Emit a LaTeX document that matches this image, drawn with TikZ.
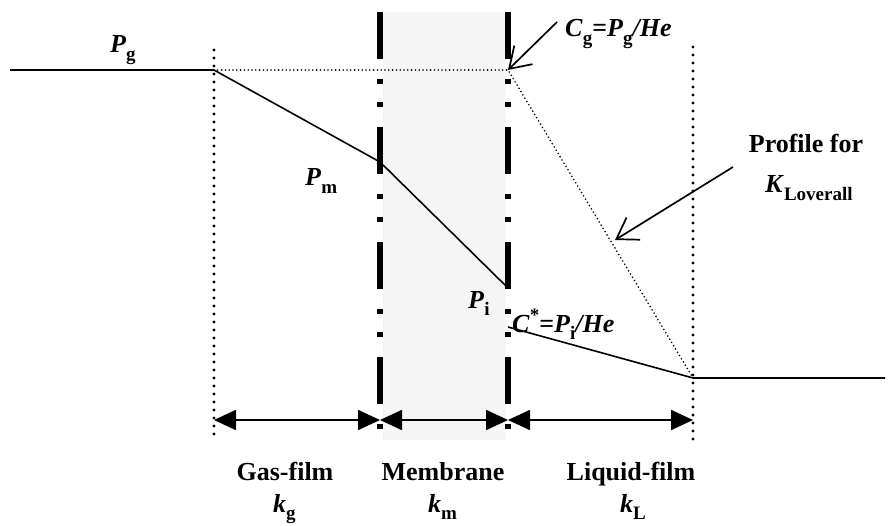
\documentclass[tikz,border=0pt]{standalone}
\usepackage{fontspec}
\setmainfont{Liberation Serif}
\usetikzlibrary{arrows.meta}
\newcommand{\sbs}[1]{\raisebox{-0.28em}{\fontsize{19}{19}\selectfont\bfseries\upshape #1}}
\newcommand{\sps}[1]{\raisebox{0.42em}{\fontsize{19}{19}\selectfont\bfseries\upshape #1}}
\begin{document}
\begin{tikzpicture}[x=1pt,y=-1pt,
  lbl/.style={inner sep=0pt, anchor=base west, font=\fontsize{26}{30}\selectfont\bfseries},
  clbl/.style={inner sep=0pt, anchor=base, font=\fontsize{26}{30}\selectfont\bfseries},
  prof/.style={line width=1.6pt},
  fdot/.style={line width=1.8pt, dash pattern=on 0pt off 3.8pt, line cap=round},
  vdot/.style={line width=3.4pt, dash pattern=on 0pt off 8pt, line cap=round},
  memb/.style={line width=5.5pt, dash pattern=on 47pt off 20pt on 5pt off 18pt on 5pt off 20pt},
  dim/.style={line width=1.8pt, {Triangle[length=22pt,width=20pt]}-{Triangle[length=22pt,width=20pt]}},
  ptr/.style={line width=1.7pt, -{Straight Barb[length=20pt,width=26pt]}}
]
\useasboundingbox (0,0) rectangle (890,526);
% membrane shading
\fill[black!4] (383,12) rectangle (506,440);
% coordinates
\coordinate (P0) at (10,70);
\coordinate (A) at (214,70);
\coordinate (M) at (380,162);
\coordinate (I) at (508,288);
\coordinate (CG) at (508,70);
\coordinate (S) at (508,327);
\coordinate (L) at (693,378);
\coordinate (L1) at (885,378);
\coordinate (gt) at (214,50);
\coordinate (gb) at (214,440);
\coordinate (lt) at (693,47);
\coordinate (lb) at (693,440);
\coordinate (mlt) at (380,12);
\coordinate (mlb) at (380,432);
\coordinate (mrt) at (508,12);
\coordinate (mrb) at (508,432);
\coordinate (d0) at (214,420);
\coordinate (d1) at (380,420);
\coordinate (d2) at (508,420);
\coordinate (d3) at (693,420);
% film boundaries
\draw[vdot] (gt) -- (gb);
\draw[vdot] (lt) -- (lb);
\draw[memb] (mlt) -- (mlb);
\draw[memb] (mrt) -- (mrb);
% profiles
\draw[prof] (P0) -- (A) -- (M) -- (I);
\draw[prof] (S) -- (L) -- (L1);
\draw[fdot] (A) -- (CG) -- (L);
% dimension arrows
\draw[dim] (d0) -- (d1);
\draw[dim] (d1) -- (d2);
\draw[dim] (d2) -- (d3);
% labels
\node[lbl] (pg) at (110,53) {\textit{P}\sbs{g}};
\node[lbl] (pm) at (305,186) {\textit{P}\sbs{m}};
\node[lbl] (pi) at (468,308) {\textit{P}\sbs{i}};
\node[lbl] (cs) at (512,332) {\textit{C}\sps{*}=\textit{P}\sbs{i}\textit{/He}};
\node[lbl] (cg) at (565,37) {\textit{C}\sbs{g}=\textit{P}\sbs{g}\textit{/He}};
\node[clbl] (pf) at (806,153) {Profile for};
\node[lbl] (kl) at (765,193) {\textit{K}\sbs{Loverall}};
\node[clbl] (gf) at (285,480) {Gas-film};
\node[lbl] (kg) at (273,512) {\textit{k}\sbs{g}};
\node[clbl] (mb) at (443,480) {Membrane};
\node[lbl] (km) at (428,512) {\textit{k}\sbs{m}};
\node[clbl] (lf) at (631,480) {Liquid-film};
\node[lbl] (kL) at (620,512) {\textit{k}\sbs{L}};
% pointers
\coordinate (cgs) at (557,22);
\coordinate (pfs) at (733,167);
\coordinate (pft) at (615,240);
\draw[ptr] (cgs) -- (CG);
\draw[ptr] (pfs) -- (pft);
\end{tikzpicture}
\end{document}
